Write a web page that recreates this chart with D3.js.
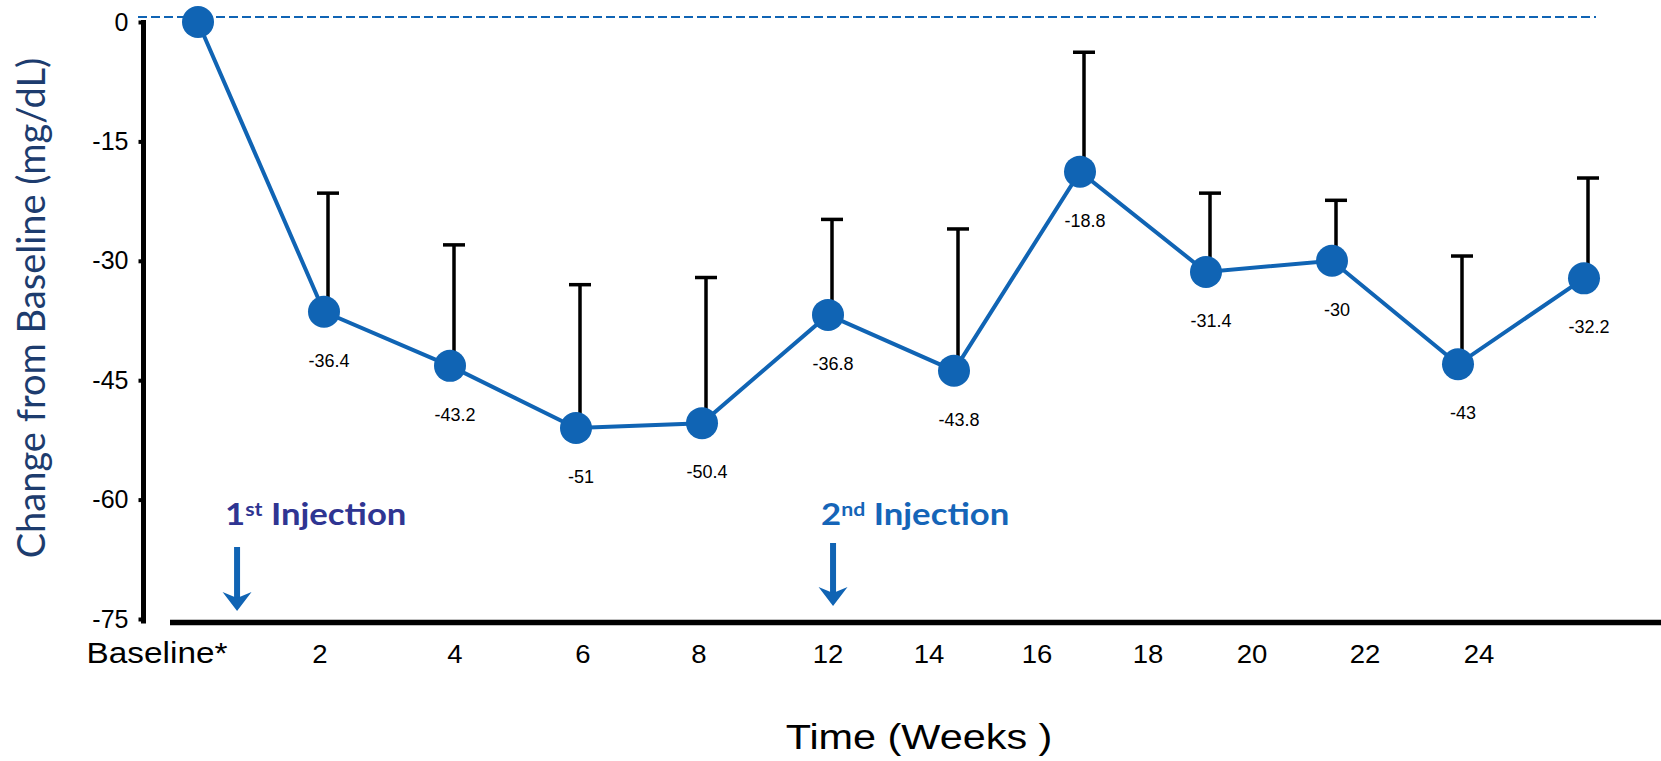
<!DOCTYPE html>
<html lang="en">
<head>
<meta charset="UTF-8">
<title>Change from Baseline</title>
<script src="https://cdn.jsdelivr.net/npm/d3@7/dist/d3.min.js"></script>
<style>
  body { margin: 0; background: #fff; }
  svg { display: block; }
</style>
</head>
<body>
<script>

    // values
    var weeks  = ["Baseline*", "2", "4", "6", "8", "12", "14", "16", "18", "20", "22", "24"];
    var change = [0, -36.4, -43.2, -51, -50.4, -36.8, -43.8, -18.8, -31.4, -30, -43, -32.2];
    var sd     = [null, 14.9, 15.2, 18.0, 18.3, 12.0, 17.8, 15.0, 9.9, 7.6, 13.6, 12.6];
    var yTicks = [0, -15, -30, -45, -60, -75];

    // injection markers: position in visit units
    var injNum = ["1", "2"];
    var injSup = ["st", "nd"];
    var injAt  = [0.31, 5.04];
    var injColor = ["#2f3592", "#1565b8"];

    var width = 1661, height = 761;
    var blue = "#1064b4";

    var svg = d3.select("body").append("svg")
        .attr("width", width)
        .attr("height", height);

    var y = d3.scaleLinear().domain([-75, 0]).range([619, 22]);
    var x = d3.scaleLinear().domain([0, weeks.length - 1]).range([198, 1584]);
    // tick labels on the slide are not spaced like the points
    var xLab = d3.scaleLinear()
        .domain(d3.range(weeks.length))
        .range([157, 320, 455, 583, 699, 828, 929, 1037, 1148, 1252, 1365, 1479]);

    // zero reference (dashed)
    svg.append("line")
        .attr("x1", 138).attr("x2", 1596)
        .attr("y1", y(0) - 5).attr("y2", y(0) - 5)
        .attr("stroke", blue)
        .attr("stroke-width", 2)
        .attr("stroke-dasharray", "9,4");

    // y axis
    var yAxis = svg.append("g")
        .attr("transform", "translate(143.5,0)")
        .call(d3.axisLeft(y)
            .tickValues(yTicks)
            .tickSize(5)
            .tickSizeOuter(0)
            .tickPadding(10)
            .tickFormat(function(d) { return String(d); }));
    yAxis.select(".domain").remove();
    yAxis.selectAll(".tick line").attr("stroke", "#000").attr("stroke-width", 4);
    yAxis.selectAll(".tick text")
        .attr("fill", "#000")
        .style("font-family", "'Liberation Sans', Arial, sans-serif")
        .style("font-size", "25px");
    yAxis.append("line")
        .attr("x1", 0).attr("x2", 0)
        .attr("y1", 20).attr("y2", 623.5)
        .attr("stroke", "#000")
        .attr("stroke-width", 5);

    // x axis line
    svg.append("line")
        .attr("x1", 170).attr("x2", width)
        .attr("y1", 622.5).attr("y2", 622.5)
        .attr("stroke", "#000")
        .attr("stroke-width", 5.5);

    // x tick labels
    svg.append("g").selectAll("text")
        .data(weeks)
        .enter().append("text")
        .attr("transform", function(d, i) {
            return "translate(" + xLab(i) + ",663) scale(" + (i === 0 ? 1.15 : 1.1) + ",1)";
        })
        .attr("text-anchor", "middle")
        .style("font-family", "'Liberation Sans', Arial, sans-serif")
        .style("font-size", function(d, i) { return i === 0 ? "29px" : "25px"; })
        .text(function(d) { return d; });

    // axis titles
    svg.append("text")
        .attr("transform", "translate(919,749) scale(1.15,1)")
        .attr("text-anchor", "middle")
        .style("font-family", "'Liberation Sans', Arial, sans-serif")
        .style("font-size", "36px")
        .text("Time (Weeks )");

    svg.append("text")
        .attr("transform", "translate(45,308) rotate(-90)")
        .attr("text-anchor", "middle")
        .attr("fill", "#1d3c6e")
        .style("font-family", "Lato, 'Open Sans', sans-serif")
        .style("font-size", "38px")
        .text("Change from Baseline (mg/dL)");

    // error bars (upper only)
    var err = svg.append("g").selectAll("g")
        .data(change.map(function(v, i) { return {i: i, v: v, sd: sd[i]}; })
            .filter(function(d) { return d.sd != null; }))
        .enter().append("g")
        .attr("stroke", "#000")
        .attr("stroke-width", 3.5);
    err.append("line")
        .attr("x1", function(d) { return x(d.i) + 4; })
        .attr("x2", function(d) { return x(d.i) + 4; })
        .attr("y1", function(d) { return y(d.v); })
        .attr("y2", function(d) { return y(d.v + d.sd); });
    err.append("line")
        .attr("x1", function(d) { return x(d.i) - 7; })
        .attr("x2", function(d) { return x(d.i) + 15; })
        .attr("y1", function(d) { return y(d.v + d.sd); })
        .attr("y2", function(d) { return y(d.v + d.sd); });

    // mean line + points
    var line = d3.line()
        .x(function(d, i) { return x(i); })
        .y(function(d) { return y(d); });
    svg.append("path")
        .datum(change)
        .attr("d", line)
        .attr("fill", "none")
        .attr("stroke", blue)
        .attr("stroke-width", 4);

    svg.append("g").selectAll("circle")
        .data(change)
        .enter().append("circle")
        .attr("cx", function(d, i) { return x(i); })
        .attr("cy", function(d) { return y(d); })
        .attr("r", 16)
        .attr("fill", blue);

    // value labels
    svg.append("g").selectAll("text")
        .data(change.slice(1))
        .enter().append("text")
        .attr("x", function(d, i) { return x(i + 1) + 5; })
        .attr("y", function(d) { return y(d) + 55; })
        .attr("text-anchor", "middle")
        .style("font-family", "'Liberation Sans', Arial, sans-serif")
        .style("font-size", "18px")
        .text(function(d) { return String(d); });

    // injection arrows + labels
    var inj = svg.append("g").selectAll("g")
        .data(injAt)
        .enter().append("g")
        .attr("transform", function(d) { return "translate(" + x(d) + ",0)"; });
    inj.append("line")
        .attr("x1", 0).attr("x2", 0)
        .attr("y1", function(d, i) { return i === 0 ? 547 : 543; })
        .attr("y2", function(d, i) { return i === 0 ? 600 : 596; })
        .attr("stroke", blue)
        .attr("stroke-width", 6);
    inj.append("path")
        .attr("d", function(d, i) {
            var t = i === 0 ? 611 : 606;
            return "M0," + t + "L-14.5," + (t - 19) + "L0," + (t - 13) + "L14.5," + (t - 19) + "Z";
        })
        .attr("fill", blue);
    var lab = inj.append("text")
        .attr("transform", "translate(-12,525) scale(1.12,1)")
        .attr("fill", function(d, i) { return injColor[i]; })
        .style("font-family", "Lato, 'Open Sans', sans-serif")
        .style("font-weight", "bold")
        .style("font-size", "31px");
    lab.append("tspan").text(function(d, i) { return injNum[i]; });
    lab.append("tspan").attr("dy", -9).style("font-size", "19px").text(function(d, i) { return injSup[i]; });
    lab.append("tspan").attr("dy", 9).text(" Injection");

</script>
</body>
</html>
